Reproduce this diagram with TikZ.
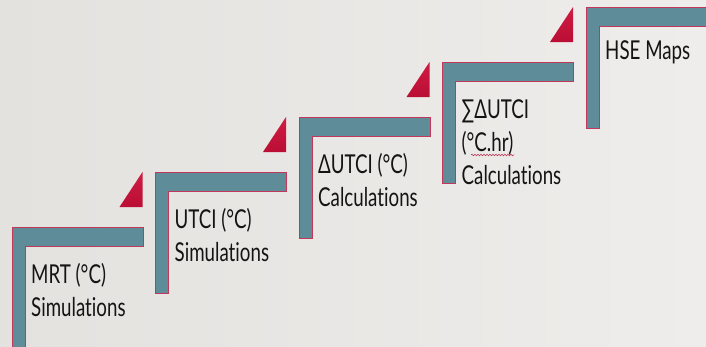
\documentclass[tikz,border=0pt]{standalone}
\usepackage{fontspec}
\setmainfont{Lato}[FakeStretch=0.72, Ligatures={NoCommon}]
\usetikzlibrary{decorations.pathmorphing}
\definecolor{bgl}{HTML}{E4E2DF}
\definecolor{bgr}{HTML}{EEEDEB}
\definecolor{barc}{HTML}{5F8C99}
\definecolor{edgec}{HTML}{C2385A}
\definecolor{trit}{HTML}{D01C44}
\definecolor{trib}{HTML}{BA0E34}
\definecolor{txtc}{HTML}{141414}
\tikzset{
  stairbar/.style={fill=barc, draw=edgec, line width=0.9pt, line join=miter},
  redtri/.style={top color=trit, bottom color=trib, draw=none},
  steplabel/.style={anchor=base west, inner sep=0pt, align=left, text=txtc,
    font=\fontsize{26}{33}\selectfont},
}
\begin{document}
\begin{tikzpicture}[x=1pt, y=-1pt]
\shade[left color=bgl, right color=bgr] (0,0) rectangle (706,346);
\useasboundingbox (0,0) rectangle (706,346);
\begin{scope}
\clip (0,0) rectangle (706,346);
\foreach \k in {1,...,5}{
  \pgfmathsetmacro{\L}{12+143.5*(\k-1)}
  \pgfmathsetmacro{\T}{227-55*(\k-1)}
  \draw[stairbar] (\L,\T) -- (\L+131,\T) -- (\L+131,\T+19.5) -- (\L+13,\T+19.5)
     -- (\L+13,\T+121) -- (\L,\T+121) -- cycle;
}
\foreach \k in {2,...,5}{
  \pgfmathsetmacro{\L}{12+143.5*(\k-1)}
  \pgfmathsetmacro{\T}{227-55*(\k-1)}
  \shade[redtri] (\L-36,\T+35) -- (\L-13,\T+35) -- (\L-13,\T) -- cycle;
}
\end{scope}
% anchor = baseline of the last line
\node[steplabel] (s1) at (31,316) {MRT (°C)\\Simulations};
\node[steplabel] (s2) at (174.5,261) {UTCI (°C)\\Simulations};
\node[steplabel] (s3) at (318,206) {ΔUTCI (°C)\\Calculations};
\node[steplabel] (s4) at (461.5,184) {∑ΔUTCI\\(°C.hr)\\Calculations};
\node[steplabel] (s5) at (605,59) {HSE Maps};
\draw[edgec, line width=0.6pt, decorate, decoration={snake, amplitude=0.8pt, segment length=3pt}]
  (471,155) -- (514,155);
\end{tikzpicture}
\end{document}
